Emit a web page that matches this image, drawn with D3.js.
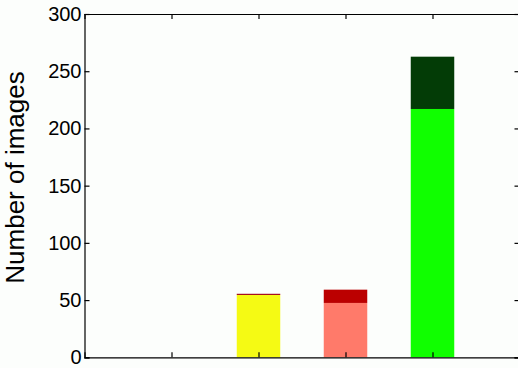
<!DOCTYPE html>
<html>
<head>
<meta charset="utf-8">
<script src="https://cdn.jsdelivr.net/npm/d3@7"></script>
<style>
  html, body { margin: 0; padding: 0; background: #fcfefc; }
  svg { display: block; }
</style>
</head>
<body>
<svg id="chart" width="518" height="368"></svg>
<script>
// Data
const categories = [1, 2, 3, 4];
const baseValues = [0, 54.5, 47.5, 217];   // lower segment
const topValues  = [0, 1, 11.6, 45.7];     // upper segment
const baseColors = ["#ffffff", "#f5fa14", "#ff7a6a", "#10ff00"];
const topColors  = ["#ffffff", "#a00010", "#bb0000", "#033c06"];
const yTicks = [0, 50, 100, 150, 200, 250, 300];
const xTicks = [1, 2, 3, 4];
const yLabel = "Number of images";

(function () {
const svg = d3.select("#chart");
const mLeft = 84.5, mRight = 519.5, mTop = 14, mBottom = 357.3;

const x = d3.scaleLinear().domain([0, 5]).range([mLeft, mRight]);
const y = d3.scaleLinear().domain([0, 300]).range([mBottom, mTop]);
const barW = x(0.5) - x(0);

// bars
categories.forEach((c, i) => {
  if (baseValues[i] > 0) {
    svg.append("rect")
      .attr("x", x(c - 0.25)).attr("width", barW)
      .attr("y", y(baseValues[i])).attr("height", y(0) - y(baseValues[i]))
      .attr("fill", baseColors[i]);
  }
  if (topValues[i] > 0) {
    const t = baseValues[i] + topValues[i];
    svg.append("rect")
      .attr("x", x(c - 0.25)).attr("width", barW)
      .attr("y", y(t)).attr("height", y(baseValues[i]) - y(t))
      .attr("fill", topColors[i]);
  }
});

const tickLen = 5;
const font = "'Liberation Sans', Arial, sans-serif";

// axes
const gL = svg.append("g").attr("transform", `translate(${mLeft},0)`)
  .call(d3.axisLeft(y).tickValues(yTicks).tickSize(-tickLen).tickPadding(3).tickFormat(d3.format("d")));
const gR = svg.append("g").attr("transform", `translate(${mRight},0)`)
  .call(d3.axisRight(y).tickValues(yTicks).tickSize(-tickLen).tickFormat(""));
const gB = svg.append("g").attr("transform", `translate(0,${mBottom})`)
  .call(d3.axisBottom(x).tickValues(xTicks).tickSize(-tickLen).tickFormat(""));
const gT = svg.append("g").attr("transform", `translate(0,${mTop})`)
  .call(d3.axisTop(x).tickValues(xTicks).tickSize(-tickLen).tickFormat(""));

[gL, gR, gB, gT].forEach(g => {
  g.select(".domain").attr("stroke", "#000").attr("stroke-width", 1.2);
  g.selectAll(".tick line").attr("stroke", "#000").attr("stroke-width", 1.2);
});
gL.selectAll(".tick text")
  .attr("font-family", font).attr("font-size", 20).attr("fill", "#000");

// y label
svg.append("text")
  .attr("transform", `translate(24,177.5) rotate(-90)`)
  .attr("text-anchor", "middle")
  .attr("font-family", font).attr("font-size", 26).attr("fill", "#000")
  .text(yLabel);
})();
</script>
</body>
</html>
